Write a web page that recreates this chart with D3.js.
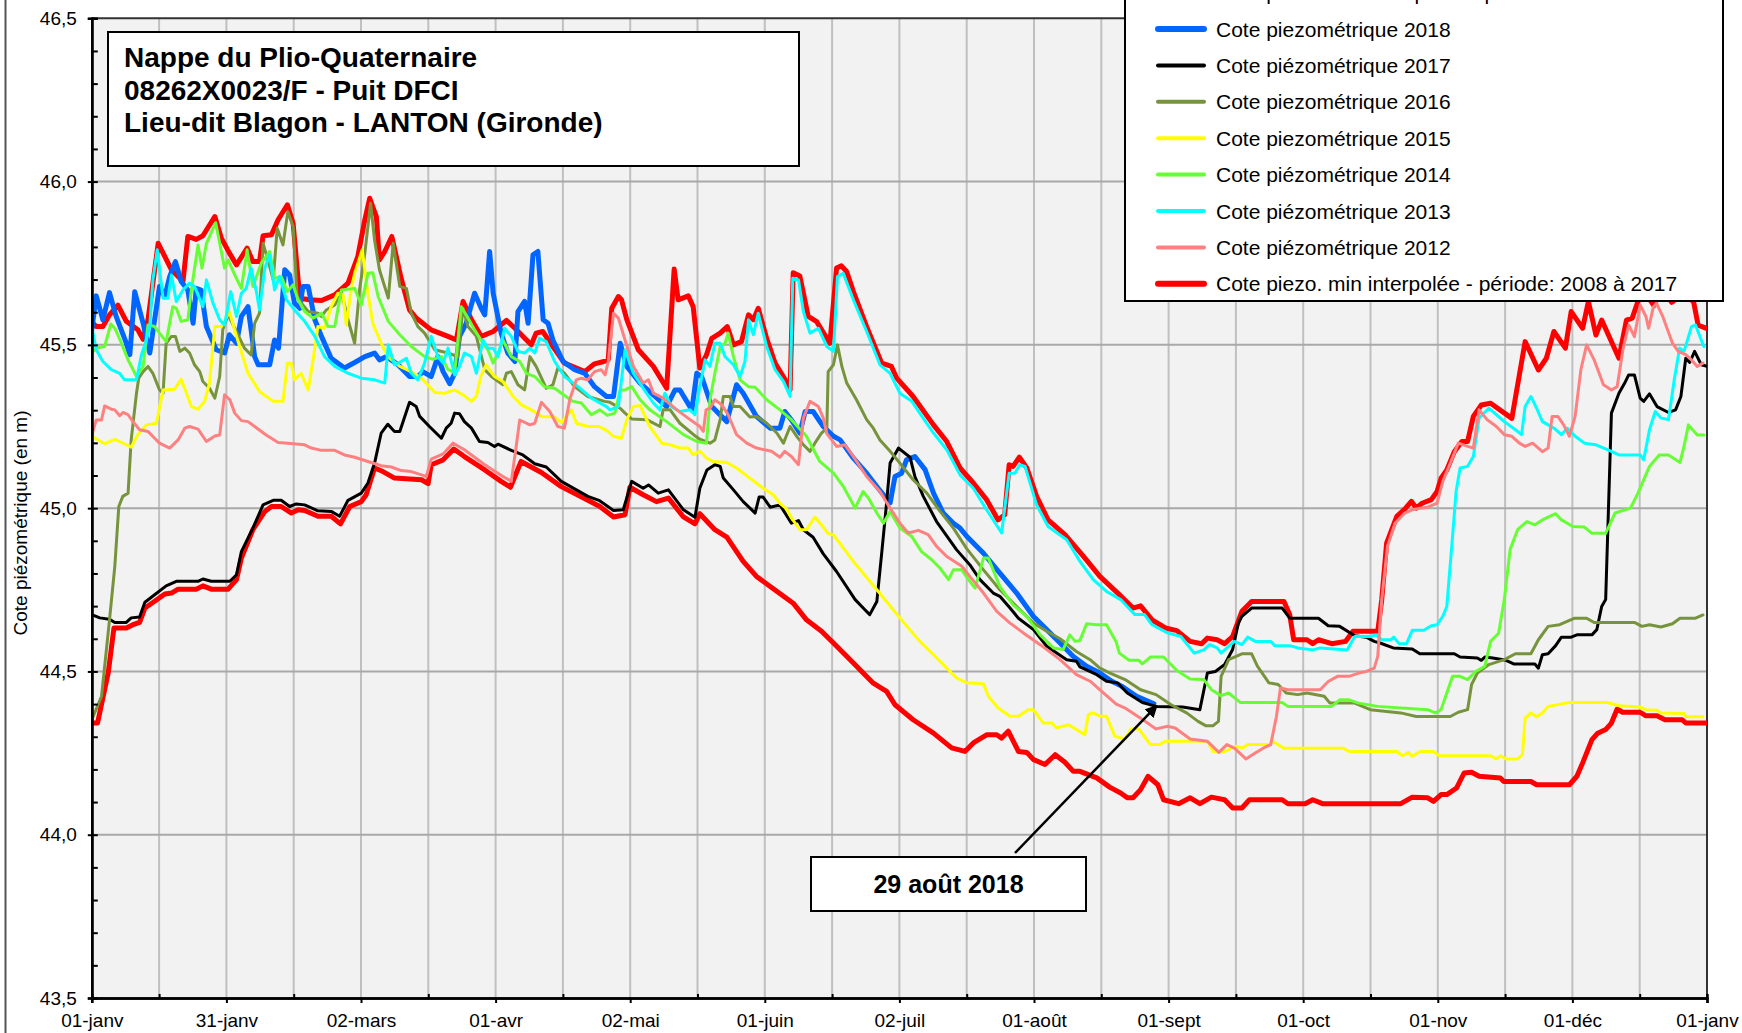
<!DOCTYPE html>
<html>
<head>
<meta charset="utf-8">
<script src="https://cdn.jsdelivr.net/npm/d3@7"></script>
<style>
body { margin: 0; background: #fff; }
svg { display: block; }
text { font-family: "Liberation Sans", Arial, sans-serif; }
</style>
</head>
<body>
<svg id="chart" width="1742" height="1033"></svg>
<script>
// tick labels of the x axis (13 evenly spaced ticks over one year)
let monthLabels = ["01-janv", "31-janv", "02-mars", "01-avr", "02-mai", "01-juin", "02-juil", "01-août", "01-sept", "01-oct", "01-nov", "01-déc", "01-janv"]
let yMajor = [43.5, 44.0, 44.5, 45.0, 45.5, 46.0, 46.5]

// [day of year, level in m]
let maxInterp = [[0,45.57],[1,45.556],[2.5,45.556],[4,45.592],[5.9,45.622],[7.8,45.572],[10.4,45.546],[11.6,45.517],[12.7,45.577],[15,45.811],[18,45.73],[20.6,45.694],[21.7,45.832],[23.6,45.823],[25.1,45.834],[27.8,45.893],[29.3,45.826],[31.1,45.781],[32.7,45.745],[35.1,45.796],[36.4,45.755],[37.9,45.755],[38.7,45.834],[40.6,45.837],[42.1,45.883],[44.2,45.929],[45.5,45.872],[47,45.643],[49.2,45.638],[51.9,45.636],[54.9,45.653],[57.9,45.689],[60.1,45.77],[61.7,45.883],[62.8,45.949],[64.3,45.893],[65,45.76],[66.2,45.786],[67.8,45.832],[69.9,45.704],[71.8,45.607],[73.3,45.582],[76.7,45.546],[80.5,45.526],[82.4,45.515],[83.9,45.633],[85.8,45.577],[88,45.526],[90.7,45.541],[93.7,45.575],[95.6,45.551],[99.3,45.5],[100.4,45.536],[101.9,45.541],[104.2,45.495],[106.8,45.444],[111.4,45.418],[113.6,45.442],[115.7,45.449],[116.7,45.454],[117.5,45.612],[119,45.648],[119.7,45.638],[120.9,45.577],[123.5,45.485],[126.9,45.434],[129.9,45.367],[131.6,45.732],[132.5,45.638],[134.8,45.65],[135.9,45.617],[137.4,45.429],[138.9,45.469],[140.1,45.52],[142,45.536],[143.6,45.556],[145,45.5],[146.8,45.51],[148.4,45.592],[149.5,45.577],[150.6,45.612],[152.5,45.52],[154.4,45.444],[156.6,45.395],[157.8,45.362],[158.5,45.721],[160,45.711],[161.9,45.587],[163.8,45.571],[166.8,45.505],[168.3,45.735],[169.4,45.742],[170.6,45.724],[172.1,45.663],[175.1,45.556],[178.5,45.444],[180.7,45.434],[181.9,45.398],[185.6,45.342],[190.2,45.255],[193.2,45.204],[196.2,45.123],[199.2,45.077],[202.2,45.026],[204.8,44.964],[206.3,44.98],[207.3,45.133],[208.2,45.128],[209.6,45.156],[211.3,45.123],[213.5,45.036],[216.1,44.964],[219.9,44.919],[224.1,44.852],[227.8,44.791],[232.2,44.735],[235.3,44.694],[237,44.701],[239.6,44.658],[242.6,44.633],[245.2,44.625],[248.2,44.592],[250.8,44.585],[252.1,44.602],[254.3,44.597],[256,44.585],[257.8,44.607],[259.9,44.684],[262.1,44.714],[269.4,44.714],[270.7,44.674],[271.6,44.597],[274.6,44.597],[275.9,44.585],[277.2,44.597],[280.2,44.585],[283.3,44.592],[285,44.623],[290.6,44.623],[291.5,44.72],[292.6,44.893],[294.9,44.975],[296.7,44.997],[298.2,45.021],[299.3,45.0],[300.6,45.015],[302.7,45.026],[304,45.051],[304.9,45.092],[306.2,45.117],[307.9,45.173],[309.6,45.204],[310.9,45.204],[312.2,45.281],[314,45.316],[316.1,45.321],[320.9,45.275],[323.9,45.51],[326.9,45.423],[328.7,45.459],[330.4,45.541],[333,45.49],[334.3,45.602],[336.9,45.551],[338.2,45.633],[339.9,45.53],[341.2,45.576],[345.1,45.459],[346.8,45.576],[348.1,45.582],[349.4,45.633],[351,45.66],[353,45.62],[355,45.68],[357,45.63],[360,45.66],[362,45.63],[363,45.56],[365,45.55]]

let minInterp = [[0,44.342],[1.3,44.342],[3.7,44.495],[5,44.633],[7.8,44.633],[9.3,44.643],[10.8,44.65],[12,44.694],[14.2,44.715],[16.5,44.737],[18,44.74],[19.5,44.752],[23.6,44.752],[25.1,44.762],[27,44.752],[30.8,44.752],[32.7,44.781],[33.8,44.847],[36.4,44.934],[39.1,44.99],[40.6,45.005],[42.8,45.005],[45.1,44.985],[46.6,44.995],[48.1,44.993],[51.1,44.975],[54.1,44.975],[56.2,44.952],[58.3,45.005],[60.9,45.02],[62,45.041],[63.9,45.123],[65.8,45.112],[68.4,45.092],[74.5,45.087],[76,45.075],[76.7,45.133],[79.4,45.148],[81.8,45.181],[84.2,45.158],[88.8,45.117],[92.5,45.082],[94.6,45.064],[97,45.143],[101.6,45.109],[106.1,45.066],[112.1,45.024],[114.8,45.005],[117.9,44.973],[120.5,44.98],[121.6,45.064],[124.6,45.041],[127.6,45.02],[130.3,45.031],[133.7,44.973],[136.3,44.952],[137.4,44.983],[140.8,44.934],[143.5,44.911],[147.2,44.837],[150.2,44.791],[153.3,44.76],[158.5,44.709],[161.5,44.658],[164.9,44.623],[167.6,44.587],[172.1,44.526],[173.6,44.505],[176.6,44.464],[179.6,44.439],[181.5,44.398],[185.6,44.352],[190.2,44.311],[194.3,44.266],[197.3,44.255],[199.2,44.281],[202.2,44.306],[204.5,44.306],[205.6,44.296],[207.1,44.317],[209.4,44.255],[211.3,44.252],[212.8,44.23],[215.4,44.215],[217.7,44.245],[219.9,44.222],[221.8,44.194],[223.3,44.194],[227.1,44.174],[230.1,44.145],[232.5,44.128],[234,44.113],[235.3,44.113],[237,44.138],[238.7,44.179],[240.9,44.153],[242.2,44.107],[245.6,44.095],[248.2,44.113],[250.4,44.095],[253,44.115],[256,44.107],[257.8,44.082],[259.9,44.082],[261.6,44.107],[269,44.107],[270.3,44.095],[274.2,44.095],[275.9,44.107],[278.1,44.095],[295.8,44.095],[298.4,44.115],[301.9,44.113],[303.2,44.102],[304.9,44.123],[306.2,44.123],[308.4,44.143],[310.1,44.189],[311.8,44.191],[313.5,44.179],[318.3,44.174],[319.1,44.163],[325.2,44.163],[326.5,44.153],[333.9,44.153],[335.6,44.179],[336.9,44.22],[339,44.291],[340.3,44.311],[342.1,44.322],[343.4,44.342],[344.7,44.385],[345.9,44.375],[349.9,44.375],[351.2,44.364],[353.7,44.364],[355.5,44.352],[359.4,44.352],[360.2,44.342],[365,44.342]]

let level2018 = [[0,45.546],[1,45.65],[2.5,45.577],[4,45.66],[5.5,45.587],[7.8,45.505],[8.6,45.47],[9.7,45.663],[11.6,45.566],[13.1,45.475],[14.2,45.577],[15.3,45.679],[16.5,45.648],[17.6,45.709],[18.9,45.755],[20.2,45.694],[21.7,45.668],[22.9,45.566],[23.6,45.673],[24.7,45.668],[25.9,45.556],[28.1,45.485],[30,45.475],[31.1,45.531],[32.7,45.505],[33.8,45.587],[35.3,45.617],[36.8,45.464],[37.6,45.439],[40.2,45.439],[41.3,45.515],[42.2,45.49],[43.6,45.73],[44.7,45.714],[45.8,45.628],[47,45.612],[47.7,45.679],[48.9,45.679],[50.4,45.577],[51.9,45.526],[54.1,45.459],[57.1,45.429],[59.4,45.446],[61.7,45.464],[63.9,45.475],[65,45.454],[66.6,45.464],[69.2,45.439],[71.8,45.403],[73.7,45.403],[74.8,45.418],[76.7,45.403],[78.2,45.464],[79.4,45.418],[80.9,45.381],[82,45.413],[83.1,45.526],[84.6,45.566],[86.5,45.658],[88,45.612],[88.8,45.592],[89.9,45.786],[90.7,45.658],[92.5,45.536],[94,45.475],[95.6,45.449],[96.3,45.602],[97.8,45.633],[98.6,45.566],[99.7,45.776],[100.8,45.786],[102,45.577],[103.1,45.566],[104.2,45.515],[106.5,45.449],[109.1,45.424],[111.4,45.413],[113.6,45.372],[116.3,45.342],[117.9,45.342],[119.4,45.505],[120.9,45.434],[123.9,45.383],[126.9,45.347],[129.9,45.311],[131.8,45.362],[132.9,45.362],[135.6,45.301],[136.7,45.413],[137.8,45.403],[140.1,45.311],[143.5,45.265],[145.7,45.378],[147.2,45.352],[150.2,45.281],[153.3,45.245],[155.5,45.245],[156.6,45.296],[158.1,45.27],[160,45.23],[161.2,45.296],[163,45.296],[165.3,45.25],[167.6,45.22],[169.1,45.209],[172.1,45.153],[175.1,45.107],[177.7,45.061],[180.4,45.016],[181.5,45.097],[183,45.107],[184.1,45.148],[186,45.158],[188.3,45.118],[190.2,45.046],[192.4,44.985],[194.7,44.954],[196.2,44.939],[197.7,44.914],[201.5,44.862],[205.2,44.801],[209,44.74],[212.8,44.668],[215.8,44.628],[218.8,44.587],[221.8,44.546],[224.8,44.516],[227.8,44.495],[230.5,44.47],[232.7,44.455],[236.1,44.424],[240,44.401]]

let level2017 = [[0,44.674],[1.8,44.664],[4,44.66],[5.2,44.65],[7.8,44.65],[8.9,44.664],[10.8,44.667],[12,44.712],[14.2,44.735],[16.8,44.762],[19.1,44.776],[24,44.776],[25.1,44.783],[27,44.776],[31.2,44.776],[32.7,44.796],[33.8,44.867],[36.4,44.939],[38.7,45.01],[41,45.024],[42.8,45.024],[44.7,45.005],[46.2,45.013],[48.1,45.01],[51.1,44.992],[54.1,44.99],[56,44.975],[57.9,45.024],[60.9,45.046],[62.4,45.077],[63.9,45.138],[65.4,45.23],[66.9,45.257],[68.4,45.235],[69.6,45.235],[71.8,45.324],[73.3,45.311],[74.1,45.281],[76.3,45.25],[79,45.214],[80.1,45.245],[81.2,45.26],[82,45.291],[83.1,45.289],[84.2,45.265],[85.8,45.245],[87.6,45.204],[89.5,45.201],[91,45.189],[91.8,45.196],[94.8,45.177],[97.4,45.163],[100.1,45.136],[102.7,45.126],[106.1,45.082],[112.1,45.036],[114.6,45.024],[117.9,44.993],[120.1,44.995],[122,45.082],[124.6,45.061],[125.8,45.071],[128,45.046],[130.3,45.056],[133.7,44.995],[136.3,44.972],[137.4,45.061],[139,45.117],[140.8,45.133],[142,45.128],[142.7,45.092],[145,45.056],[147.2,45.02],[149.9,44.985],[150.8,45.034],[151.7,45.034],[153.3,45.003],[155.5,45.01],[158.1,44.954],[159.7,44.962],[160.8,44.934],[163,44.911],[165.3,44.86],[168.3,44.806],[172.5,44.72],[174.7,44.689],[175.8,44.674],[177.4,44.714],[178.5,44.862],[179.6,45.015],[180.4,45.138],[182.3,45.184],[184.9,45.156],[186,45.097],[187.9,45.036],[190.9,44.959],[195.4,44.873],[198.4,44.827],[200.7,44.781],[203.7,44.74],[205.2,44.73],[207.5,44.694],[209.4,44.663],[212.8,44.628],[215.8,44.577],[220.3,44.536],[222.5,44.531],[223.3,44.514],[227.1,44.49],[229.3,44.47],[231.8,44.465],[234,44.434],[237.4,44.405],[240.5,44.393],[246.5,44.391],[250.4,44.383],[252.1,44.495],[253.9,44.5],[256,44.521],[257.8,44.567],[259.1,44.648],[259.9,44.669],[262.1,44.694],[269,44.694],[270.7,44.663],[277.2,44.663],[279.4,44.64],[282,44.638],[285.4,44.609],[288,44.605],[289.8,44.592],[291.1,44.587],[294.1,44.572],[298.4,44.569],[300.1,44.554],[307.9,44.554],[309.2,44.544],[313.1,44.541],[314,44.534],[314.8,44.544],[316.6,44.541],[319.6,44.534],[321.3,44.523],[326.1,44.523],[326.9,44.51],[327.8,44.551],[329.1,44.554],[330.8,44.579],[332.1,44.605],[334.3,44.605],[335.6,44.612],[339,44.612],[340.1,44.628],[341.2,44.699],[342.1,44.72],[343.4,45.291],[345.1,45.352],[346.4,45.383],[347.3,45.408],[348.6,45.408],[349.9,45.337],[350.7,45.327],[352,45.35],[353.7,45.311],[356.3,45.293],[357.9,45.301],[359.1,45.342],[360.2,45.459],[361.1,45.446],[362.2,45.48],[363.7,45.439],[365,45.434]]

let level2016 = [[0,44.352],[2.2,44.424],[4,44.658],[5.2,44.822],[6.1,45.005],[7,45.036],[8.2,45.046],[8.9,45.209],[10.1,45.352],[10.6,45.398],[11.6,45.418],[12.7,45.434],[13.8,45.413],[15.3,45.362],[16.1,45.352],[16.8,45.505],[18,45.526],[18.9,45.526],[19.9,45.48],[21,45.49],[22.1,45.475],[23.2,45.439],[24.4,45.418],[25.1,45.388],[26.6,45.367],[27.8,45.337],[28.9,45.403],[29.6,45.546],[30.8,45.592],[32.3,45.551],[34.5,45.49],[36,45.469],[36.8,45.566],[37.9,45.597],[38.7,45.811],[39.8,45.76],[41,45.699],[41.9,45.857],[43.2,45.806],[44.3,45.908],[45.5,45.862],[46.4,45.648],[47.7,45.622],[48.9,45.602],[51.1,45.597],[51.9,45.587],[53,45.607],[54.9,45.622],[56.4,45.663],[57.9,45.577],[59.4,45.505],[60.5,45.668],[61.7,45.781],[63,45.934],[63.9,45.821],[65,45.73],[67,45.643],[68.1,45.811],[69.6,45.679],[71.1,45.673],[72.2,45.597],[73.7,45.556],[75.2,45.536],[77.5,45.485],[80.5,45.475],[82.7,45.464],[83.9,45.612],[85,45.556],[86.9,45.526],[88.8,45.424],[90.3,45.403],[92.9,45.378],[93.7,45.413],[94.8,45.418],[96.3,45.378],[97.8,45.362],[99,45.464],[100.4,45.434],[102.7,45.367],[104.2,45.378],[105.3,45.429],[106.8,45.413],[109.1,45.372],[112.1,45.342],[115.9,45.327],[117.1,45.324],[119.4,45.306],[120.5,45.291],[122,45.273],[125.4,45.271],[128.4,45.25],[129.1,45.301],[130.7,45.301],[132.9,45.26],[136,45.225],[137.4,45.211],[139.7,45.199],[140.8,45.209],[142,45.271],[142.7,45.342],[144.2,45.342],[145,45.311],[146.5,45.311],[148.7,45.279],[150.2,45.281],[152.5,45.26],[154.8,45.23],[156.3,45.199],[157.8,45.25],[159.3,45.22],[160.8,45.194],[162.3,45.174],[163.4,45.199],[164.9,45.23],[166.1,45.245],[166.4,45.418],[167.6,45.439],[168.5,45.5],[169.5,45.434],[170.6,45.383],[172.8,45.332],[175.1,45.271],[176.6,45.245],[178.1,45.209],[180.4,45.174],[182.6,45.138],[185.6,45.087],[188.7,45.046],[191.7,44.99],[194.7,44.939],[197.7,44.876],[201.5,44.811],[205.2,44.75],[209,44.699],[212.8,44.648],[215.8,44.623],[218.8,44.6],[222.5,44.561],[225.6,44.536],[227.8,44.51],[230.1,44.495],[233.5,44.475],[237,44.444],[240.5,44.429],[243.9,44.398],[247.4,44.373],[250,44.347],[251.7,44.334],[253.4,44.334],[254.6,44.347],[255.2,44.485],[256.9,44.536],[259.9,44.554],[262.1,44.554],[263.4,44.516],[266,44.465],[268.1,44.46],[269.9,44.434],[272.5,44.429],[274.6,44.434],[278.5,44.424],[279.8,44.403],[285.4,44.403],[288.9,44.383],[295.8,44.373],[299.3,44.362],[307,44.362],[308.8,44.375],[310.9,44.383],[311.8,44.46],[313.1,44.495],[315.7,44.521],[319.2,44.536],[321.7,44.554],[325.2,44.554],[326.9,44.597],[329.1,44.638],[331.7,44.643],[335.1,44.663],[337.8,44.663],[339.5,44.65],[348.6,44.65],[350.3,44.638],[352,44.643],[354.6,44.636],[357.2,44.646],[358.9,44.663],[362.4,44.663],[364.1,44.673]]

let level2015 = [[0,45.22],[2.9,45.197],[5.2,45.211],[6.7,45.201],[8.9,45.187],[10.4,45.225],[12.3,45.255],[14.6,45.26],[16.1,45.362],[18.7,45.364],[20.2,45.395],[21.4,45.352],[22.5,45.311],[24,45.303],[25.5,45.327],[26.6,45.383],[27.8,45.556],[29.3,45.556],[31.1,45.602],[32.7,45.526],[35.3,45.413],[37.9,45.357],[41,45.327],[43.2,45.327],[44.2,45.444],[45.1,45.444],[45.8,45.393],[47.3,45.413],[48.9,45.362],[50,45.454],[51.1,45.556],[52.6,45.551],[54.1,45.617],[55.6,45.658],[56.8,45.653],[57.5,45.561],[58.6,45.668],[59.4,45.719],[61.1,45.791],[62.4,45.658],[63.5,45.566],[65.4,45.505],[66.9,45.464],[69.6,45.434],[72.2,45.418],[74.5,45.398],[77.5,45.354],[79.7,45.352],[82,45.362],[84.2,45.344],[85.8,45.327],[86.9,45.342],[87.9,45.403],[89.1,45.439],[91,45.403],[92.9,45.388],[95.2,45.342],[97.1,45.316],[99.3,45.301],[101.6,45.281],[104.6,45.279],[106.1,45.262],[108.4,45.301],[109.5,45.26],[112.1,45.25],[114.6,45.25],[116.3,45.238],[117.9,45.22],[119.7,45.214],[120.9,45.271],[122.4,45.311],[123.9,45.314],[126.1,45.25],[128.8,45.199],[130.7,45.194],[132.9,45.184],[134.8,45.184],[135.9,45.163],[137.4,45.174],[138.9,45.153],[140.4,45.143],[143.5,45.14],[145.7,45.123],[148.7,45.092],[151.7,45.061],[154,45.041],[155.5,45.015],[157,44.998],[158.1,44.97],[160,44.934],[161.5,44.934],[163.4,44.973],[164.9,44.949],[166.4,44.922],[167.6,44.918],[172.1,44.837],[177.4,44.75],[182.6,44.664],[187.1,44.592],[190.2,44.551],[193.2,44.51],[195.4,44.48],[197.7,44.465],[201.5,44.462],[202.6,44.424],[204.8,44.388],[207.5,44.363],[209.4,44.363],[211.6,44.383],[212.8,44.383],[215,44.342],[216.9,44.342],[218,44.327],[220.7,44.337],[222.5,44.322],[224.4,44.306],[225.2,44.368],[226.3,44.373],[227.8,44.363],[229.3,44.363],[231.2,44.301],[233.5,44.293],[234.8,44.324],[236.6,44.324],[237.9,44.3],[239.2,44.276],[241.3,44.276],[242.6,44.286],[252.1,44.286],[253.4,44.255],[256,44.255],[258.6,44.271],[259.9,44.265],[261.2,44.276],[266,44.276],[266.8,44.286],[269.4,44.265],[282.8,44.265],[284.1,44.255],[294.9,44.255],[296.2,44.242],[297.5,44.252],[298.4,44.24],[300.1,44.255],[303.2,44.255],[304.5,44.242],[316.1,44.242],[317.4,44.232],[318.3,44.242],[319.6,44.232],[322.2,44.232],[323.3,44.245],[323.9,44.357],[325.2,44.373],[326.5,44.361],[327.8,44.373],[329.1,44.393],[333.9,44.405],[342.5,44.405],[345.1,44.395],[349.9,44.391],[351.2,44.383],[353.7,44.381],[354.6,44.373],[359.8,44.371],[360.2,44.361],[364.1,44.361]]

let level2014 = [[0,45.475],[1,45.49],[2.9,45.495],[4.3,45.564],[5.2,45.551],[6.7,45.505],[8.2,45.454],[10.1,45.403],[11.6,45.434],[12.7,45.561],[14.2,45.556],[15.3,45.536],[16.8,45.51],[18.3,45.617],[19.1,45.612],[20.2,45.572],[21.7,45.577],[22.5,45.668],[24,45.806],[24.9,45.735],[25.9,45.811],[28,45.874],[28.9,45.811],[30,45.735],[30.8,45.76],[32.3,45.714],[33.8,45.673],[35.1,45.791],[36.4,45.679],[38.3,45.75],[40.2,45.786],[41.3,45.704],[42.8,45.709],[44.2,45.663],[45.5,45.684],[46.6,45.638],[48.1,45.602],[50,45.582],[51.9,45.597],[53.4,45.556],[54.9,45.556],[56.4,45.668],[59.4,45.673],[60.9,45.622],[62.4,45.719],[63.5,45.721],[64.7,45.648],[67,45.572],[69.6,45.531],[72.2,45.495],[75.2,45.464],[77.1,45.456],[79,45.464],[80.5,45.424],[82,45.415],[83.5,45.617],[85,45.582],[86.5,45.546],[88.4,45.505],[89.5,45.485],[90.7,45.444],[91.8,45.475],[92.9,45.515],[94.8,45.464],[96.7,45.449],[98.2,45.413],[100.1,45.403],[102.3,45.372],[104.6,45.367],[106.1,45.352],[108.7,45.327],[110.6,45.322],[112.9,45.286],[114.8,45.301],[116.5,45.284],[118.2,45.291],[119.4,45.362],[120.5,45.362],[122,45.372],[123.9,45.332],[126.1,45.301],[129.9,45.265],[133.7,45.225],[136.7,45.204],[138.9,45.199],[139.7,45.332],[140.8,45.413],[142,45.495],[143.1,45.505],[143.8,45.536],[145,45.464],[146.5,45.393],[148.4,45.372],[149.9,45.37],[152.5,45.332],[155.5,45.301],[158.1,45.271],[161.5,45.22],[164.5,45.143],[167.6,45.107],[169.8,45.067],[172.5,45.0],[174.3,45.051],[175.5,45.031],[177.4,44.985],[178.9,44.954],[180.4,44.99],[182.6,44.939],[185.3,44.913],[187.5,44.867],[189.8,44.842],[191.7,44.816],[193.6,44.781],[194.7,44.811],[196.6,44.811],[198.1,44.781],[199.6,44.755],[201.5,44.847],[202.6,44.847],[205.2,44.76],[208.2,44.704],[211.3,44.668],[214.3,44.612],[217.3,44.572],[219.5,44.567],[221,44.612],[222.2,44.592],[223.3,44.595],[224.8,44.646],[227.1,44.643],[229.3,44.643],[231.5,44.59],[232.2,44.556],[234.4,44.534],[236.6,44.534],[237.4,44.523],[239.2,44.544],[242.2,44.544],[245.2,44.503],[248.2,44.477],[251.3,44.475],[253,44.444],[255.2,44.426],[256.9,44.434],[259.5,44.405],[269,44.405],[270.3,44.393],[280.2,44.393],[282,44.413],[284.1,44.413],[286.3,44.403],[290.6,44.393],[301.9,44.383],[303.6,44.373],[304.9,44.383],[306.2,44.434],[307.5,44.485],[309.2,44.485],[310.9,44.475],[312.7,44.5],[314.8,44.516],[316.1,44.592],[317.9,44.617],[319.2,44.72],[320.5,44.873],[322.2,44.934],[324.3,44.959],[326.1,44.949],[327.8,44.964],[330.8,44.983],[332.1,44.964],[334.7,44.944],[337.3,44.942],[339,44.923],[342.1,44.923],[344.2,44.985],[347.7,45.0],[349.4,45.046],[352,45.128],[354.2,45.163],[356.3,45.163],[358.9,45.14],[359.8,45.189],[360.8,45.255],[362.8,45.224],[364.3,45.224]]

let level2013 = [[0,45.556],[1,45.485],[2.5,45.449],[4.4,45.424],[6.3,45.413],[7.4,45.393],[10.1,45.393],[11.2,45.469],[12.1,45.505],[13.1,45.556],[13.8,45.699],[14.8,45.791],[16.1,45.643],[17.2,45.643],[18,45.714],[19.1,45.633],[20.6,45.668],[22.1,45.689],[23.2,45.679],[25.1,45.617],[25.9,45.699],[27.4,45.627],[28.9,45.577],[30,45.561],[31.4,45.663],[32.7,45.587],[33.8,45.658],[34.9,45.673],[36,45.735],[37.2,45.663],[37.9,45.607],[39.1,45.735],[40.2,45.776],[41.3,45.668],[42.4,45.709],[44,45.638],[45.8,45.607],[48.1,45.572],[50.4,45.526],[52.6,45.464],[54.9,45.434],[57.9,45.413],[60.9,45.398],[63.9,45.393],[66.2,45.383],[67,45.5],[68.4,45.439],[69.9,45.449],[71.1,45.459],[72.2,45.413],[73.7,45.393],[75.2,45.444],[76.7,45.526],[78.2,45.464],[79.4,45.444],[80.5,45.49],[82,45.408],[83.1,45.434],[84.2,45.475],[85.8,45.464],[86.9,45.413],[88.4,45.515],[89.5,45.49],[90.7,45.49],[91.8,45.464],[93.3,45.551],[94.8,45.526],[96.3,45.48],[97.8,45.475],[99,45.49],[100.1,45.475],[101.2,45.52],[102.7,45.51],[104.6,45.449],[106.8,45.403],[109.9,45.372],[112.9,45.337],[116.3,45.311],[117.1,45.301],[119,45.311],[120.5,45.485],[122.4,45.413],[124.6,45.367],[126.9,45.322],[128.4,45.301],[129.5,45.352],[131,45.311],[132.9,45.296],[135.2,45.301],[136.3,45.286],[137.4,45.372],[138.6,45.454],[139.7,45.434],[140.8,45.505],[142,45.505],[143.1,45.464],[145,45.439],[146.5,45.403],[147.6,45.449],[148.4,45.577],[149.5,45.531],[150.6,45.597],[152.5,45.495],[154.4,45.424],[156.3,45.388],[157.8,45.342],[158.4,45.704],[159.7,45.699],[160.8,45.602],[162.3,45.536],[164.2,45.551],[166.1,45.495],[167.6,45.48],[168.5,45.709],[169.8,45.719],[172.1,45.638],[175.1,45.541],[178.1,45.439],[180.4,45.413],[182.6,45.352],[185.3,45.327],[187.1,45.291],[190.2,45.23],[193.2,45.179],[196.2,45.102],[199.2,45.061],[202.2,44.995],[205.6,44.924],[207.3,45.107],[208.6,45.107],[209.7,45.133],[210.9,45.128],[213.5,45.01],[216.1,44.944],[220.3,44.903],[223.3,44.837],[226.3,44.781],[229.3,44.745],[232.5,44.72],[235.7,44.674],[237.9,44.674],[239.6,44.643],[243.1,44.618],[246.1,44.607],[249.1,44.556],[251.3,44.566],[252.6,44.582],[254.3,44.572],[255.2,44.556],[256.9,44.577],[258.2,44.592],[259.9,44.582],[261.2,44.605],[262.9,44.592],[266.4,44.592],[267.3,44.579],[270.7,44.579],[272.5,44.572],[275.9,44.566],[277.6,44.572],[283.7,44.566],[285.4,44.607],[288.9,44.607],[290.2,44.612],[291.5,44.597],[293.6,44.597],[294.2,44.605],[295.4,44.585],[297.1,44.585],[298.4,44.626],[301,44.626],[302.7,44.64],[304,44.643],[305.3,44.669],[306.2,44.699],[307.3,44.88],[308.3,45.051],[309.2,45.123],[310.9,45.128],[312.2,45.158],[313.5,45.276],[315.7,45.306],[319.2,45.265],[321.7,45.24],[323.1,45.225],[323.9,45.311],[325.2,45.342],[326.5,45.306],[327.8,45.265],[330.4,45.245],[332.1,45.225],[333.4,45.245],[335.2,45.22],[337.3,45.199],[339.9,45.194],[342.5,45.179],[345.1,45.163],[349.9,45.163],[350.7,45.148],[352,45.24],[353.3,45.296],[354.6,45.276],[356.3,45.271],[357.6,45.393],[358.8,45.49],[359.8,45.48],[361.5,45.556],[362.4,45.561],[363.7,45.515],[364.3,45.495]]

let level2012 = [[0,45.224],[1,45.27],[2.2,45.27],[2.9,45.313],[4.4,45.303],[5.2,45.301],[6.3,45.283],[7.1,45.293],[8.2,45.286],[9.3,45.265],[10.8,45.24],[12.7,45.235],[14.2,45.214],[15.3,45.199],[17.6,45.184],[19.5,45.209],[21,45.245],[22.1,45.25],[24,45.242],[25.9,45.204],[27.8,45.221],[28.9,45.224],[30,45.347],[31.2,45.332],[32.3,45.291],[33.8,45.268],[35.3,45.265],[36.8,45.25],[39.4,45.224],[42.1,45.201],[44.3,45.199],[48.1,45.194],[49.6,45.184],[51.9,45.177],[54.9,45.177],[57.1,45.163],[59.4,45.156],[62.4,45.143],[65.4,45.13],[67.7,45.126],[69.9,45.115],[72.2,45.112],[74.5,45.102],[75.6,45.097],[76.7,45.15],[79.4,45.166],[81.6,45.199],[84.2,45.179],[88.8,45.133],[92.9,45.097],[94.8,45.082],[95.9,45.189],[96.7,45.27],[99,45.255],[100.1,45.26],[101.6,45.324],[103.5,45.296],[105.3,45.25],[106.8,45.245],[108,45.332],[109.5,45.393],[110.6,45.398],[112.1,45.393],[113.6,45.418],[115.1,45.424],[116,45.408],[116.7,45.449],[117.9,45.597],[119,45.582],[120.5,45.515],[122.4,45.434],[124.6,45.383],[125.8,45.393],[126.9,45.352],[129.1,45.337],[132.2,45.301],[135.2,45.271],[137.4,45.25],[138.2,45.235],[138.8,45.301],[139.7,45.306],[140.8,45.332],[142.3,45.317],[143.8,45.286],[145.7,45.225],[148,45.199],[150.2,45.184],[153.6,45.174],[155.5,45.156],[156.6,45.174],[158.1,45.158],[159.7,45.133],[160.8,45.276],[162.3,45.327],[164.2,45.311],[165.3,45.276],[166.1,45.228],[168.3,45.189],[170.2,45.194],[172.1,45.158],[175.1,45.097],[178.1,45.051],[180.4,45.0],[182.6,44.954],[184.5,44.924],[186.8,44.932],[189,44.919],[190.9,44.883],[193.2,44.852],[196.6,44.822],[198.4,44.791],[201.5,44.74],[204.5,44.684],[207.5,44.648],[210.5,44.618],[214.3,44.582],[218.8,44.536],[222.5,44.49],[225.6,44.47],[228.6,44.434],[231.5,44.4],[233.5,44.388],[237,44.357],[240.5,44.324],[243.1,44.332],[244.8,44.327],[248.2,44.293],[252.1,44.286],[254.7,44.252],[256.5,44.276],[258.2,44.265],[260.8,44.232],[262.9,44.25],[264.7,44.265],[266.4,44.276],[267.7,44.362],[268.6,44.449],[270.3,44.444],[277.6,44.444],[279.4,44.469],[281.5,44.485],[284.1,44.485],[286.3,44.495],[288,44.5],[289.8,44.51],[290.6,44.546],[291.5,44.72],[292.8,44.883],[294.5,44.954],[296.7,44.985],[298.4,44.995],[300.1,45.0],[301.9,45.003],[304,45.015],[305.3,45.082],[307,45.138],[308.8,45.199],[310.9,45.189],[312.2,45.184],[313.5,45.301],[315.3,45.271],[317.4,45.25],[319.2,45.225],[320.9,45.22],[322.6,45.199],[323.9,45.189],[325.6,45.199],[327.8,45.173],[329.1,45.184],[330,45.281],[331.3,45.281],[332.6,45.255],[333.9,45.22],[335.2,45.281],[336.5,45.424],[337.8,45.5],[339.5,45.454],[341.6,45.378],[343.4,45.362],[344.7,45.372],[346,45.485],[347.3,45.561],[348.6,45.525],[349.9,45.622],[351.2,45.587],[351.8,45.551],[352.9,45.617],[353.6,45.627],[355,45.587],[357.2,45.505],[358.5,45.48],[360.2,45.47],[361.5,45.454],[362.8,45.434],[364.1,45.444]]

// drawing order = bottom to top; legend order handled separately
let series = [
    {name: "Cote piezo. max interpolée - période: 2008 à 2017", data: maxInterp, color: "#ff0000", width: 5},
    {name: "Cote piezo. min interpolée - période: 2008 à 2017", data: minInterp, color: "#ff0000", width: 5},
    {name: "Cote piezométrique 2018", data: level2018, color: "#0066ff", width: 5},
    {name: "Cote piézométrique 2017", data: level2017, color: "#000000", width: 3},
    {name: "Cote piezométrique 2016", data: level2016, color: "#77933c", width: 3},
    {name: "Cote piezométrique 2015", data: level2015, color: "#ffff00", width: 3},
    {name: "Cote piézométrique 2014", data: level2014, color: "#66ff33", width: 3},
    {name: "Cote piézométrique 2013", data: level2013, color: "#00ffff", width: 3},
    {name: "Cote piézométrique 2012", data: level2012, color: "#ff8080", width: 3}
]
let legendOrder = [0, 2, 3, 4, 5, 6, 7, 8, 1]

let svg = d3.select("#chart")
let plot = {left: 91.8, right: 1707, top: 18.3, bottom: 998}

let x = d3.scaleLinear().domain([0, 365]).range([plot.left, plot.right])
let y = d3.scaleLinear().domain([43.5, 46.5]).range([plot.bottom, plot.top])

// outer chart border (only left edge visible)
svg.append("line")
    .attr("x1", 5.5).attr("x2", 5.5).attr("y1", 0).attr("y2", 1033)
    .attr("stroke", "#555").attr("stroke-width", 2)

// plot background
svg.append("rect")
    .attr("x", plot.left).attr("y", plot.top)
    .attr("width", plot.right - plot.left).attr("height", plot.bottom - plot.top)
    .attr("fill", "#f2f2f2")

// gridlines
let tickDays = monthLabels.map((d, i) => i * 365 / 12)
let halfDays = d3.range(1, 24).map(i => i * 365 / 24)
svg.append("g").selectAll("line")
    .data(halfDays)
    .enter().append("line")
    .attr("x1", d => x(d)).attr("x2", d => x(d))
    .attr("y1", plot.top).attr("y2", plot.bottom)
    .attr("stroke", "#c0c0c0").attr("stroke-width", 2)
svg.append("g").selectAll("line")
    .data(yMajor.slice(1, -1))
    .enter().append("line")
    .attr("x1", plot.left).attr("x2", plot.right)
    .attr("y1", d => y(d)).attr("y2", d => y(d))
    .attr("stroke", "#a8a8a8").attr("stroke-width", 2)

// frame top/right
svg.append("path")
    .attr("d", `M${plot.left},${plot.top}H${plot.right}V${plot.bottom}`)
    .attr("fill", "none").attr("stroke", "#333").attr("stroke-width", 2)

// series
svg.append("defs").append("clipPath").attr("id", "clip")
    .append("rect")
    .attr("x", plot.left).attr("y", plot.top)
    .attr("width", plot.right - plot.left).attr("height", plot.bottom - plot.top)

let line = d3.line().x(d => x(d[0])).y(d => y(d[1]))
svg.append("g").attr("clip-path", "url(#clip)")
    .selectAll("path")
    .data(series)
    .enter().append("path")
    .attr("d", d => line(d.data))
    .attr("fill", "none")
    .attr("stroke", d => d.color)
    .attr("stroke-width", d => d.width)
    .attr("stroke-linejoin", "round")
    .attr("stroke-linecap", "round")

// axes
let yAxis = svg.append("g")
    .attr("transform", "translate(" + plot.left + ",0)")
    .call(d3.axisLeft(y).tickValues(yMajor).tickSize(4).tickPadding(11)
        .tickFormat(d => d.toFixed(1).replace(".", ",")))
let yMinor = svg.append("g")
    .attr("transform", "translate(" + plot.left + ",0)")
    .call(d3.axisRight(y).tickValues(d3.range(0, 31).map(i => 43.5 + i * 0.1)).tickSize(6).tickFormat(""))
let xAxis = svg.append("g")
    .attr("transform", "translate(0," + plot.bottom + ")")
    .call(d3.axisBottom(x).tickValues(tickDays).tickSize(5).tickPadding(11)
        .tickFormat((d, i) => monthLabels[i]))
let xMinor = svg.append("g")
    .attr("transform", "translate(0," + plot.bottom + ")")
    .call(d3.axisTop(x).tickValues(halfDays.filter((d, i) => i % 2 == 0)).tickSize(4).tickFormat(""))

;[yAxis, yMinor, xAxis, xMinor].forEach(g => {
    g.select(".domain").attr("stroke", "#000").attr("stroke-width", 2.5)
    g.selectAll(".tick line").attr("stroke", "#000").attr("stroke-width", 2)
    g.selectAll("text").attr("font-size", 19).attr("fill", "#000")
        .attr("font-family", '"Liberation Sans", Arial, sans-serif')
})

svg.append("text")
    .attr("transform", "translate(27,523) rotate(-90)")
    .attr("text-anchor", "middle")
    .attr("font-size", 19)
    .text("Cote piézométrique (en m)")

// title box
let titleLines = ["Nappe du Plio-Quaternaire", "08262X0023/F - Puit DFCI", "Lieu-dit Blagon - LANTON (Gironde)"]
svg.append("rect")
    .attr("x", 108).attr("y", 32).attr("width", 691).attr("height", 134)
    .attr("fill", "#fff").attr("stroke", "#000").attr("stroke-width", 2)
svg.append("g").selectAll("text")
    .data(titleLines)
    .enter().append("text")
    .attr("x", 124)
    .attr("y", (d, i) => 67 + i * 32.5)
    .attr("font-size", 28)
    .attr("font-weight", "bold")
    .text(d => d)

// legend
let legend = svg.append("g")
legend.append("rect")
    .attr("x", 1125).attr("y", -20).attr("width", 598).attr("height", 321)
    .attr("fill", "#fff").attr("stroke", "#000").attr("stroke-width", 2)
let rows = legend.selectAll("g.row")
    .data(legendOrder.map(i => series[i]))
    .enter().append("g")
    .attr("class", "row")
    .attr("transform", (d, i) => "translate(0," + (-7.4 + i * 36.4) + ")")
rows.append("line")
    .attr("x1", 1158).attr("x2", 1204)
    .attr("stroke", d => d.color)
    .attr("stroke-width", d => d.width + 1)
    .attr("stroke-linecap", "round")
rows.append("text")
    .attr("x", 1216).attr("y", 7.5)
    .attr("font-size", 21)
    .text(d => d.name)

// annotation
let arrowFrom = [1015, 853], arrowTo = [240, 44.395]
svg.append("defs").append("marker")
    .attr("id", "arrow").attr("viewBox", "0 0 10 10")
    .attr("refX", 9).attr("refY", 5)
    .attr("markerWidth", 5).attr("markerHeight", 5)
    .attr("orient", "auto")
    .append("path").attr("d", "M0,0L10,5L0,10z").attr("fill", "#000")
svg.append("line")
    .attr("x1", arrowFrom[0]).attr("y1", arrowFrom[1])
    .attr("x2", x(arrowTo[0]) + 3).attr("y2", y(arrowTo[1]))
    .attr("stroke", "#000").attr("stroke-width", 2.5)
    .attr("marker-end", "url(#arrow)")
svg.append("rect")
    .attr("x", 811).attr("y", 857).attr("width", 275).attr("height", 54)
    .attr("fill", "#fff").attr("stroke", "#000").attr("stroke-width", 2)
svg.append("text")
    .attr("x", 948.5).attr("y", 893)
    .attr("text-anchor", "middle")
    .attr("font-size", 25)
    .attr("font-weight", "bold")
    .text("29 août 2018")
</script>
</body>
</html>
